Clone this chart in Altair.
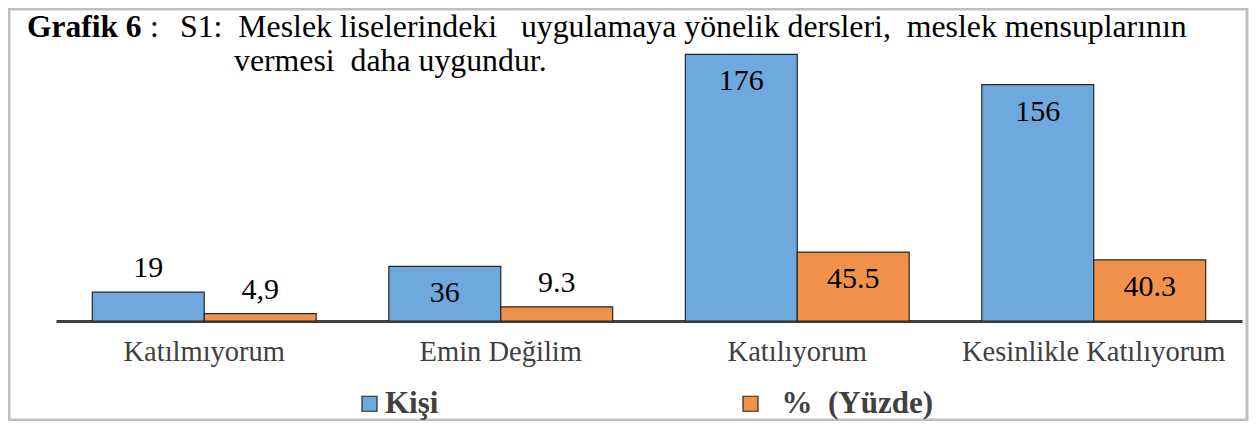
import altair as alt
import pandas as pd

categories = ["Katılmıyorum", "Emin Değilim", "Katılıyorum", "Kesinlikle Katılıyorum"]
kisi = [19, 36, 176, 156]
yuzde = [4.9, 9.3, 45.5, 40.3]
kisi_labels = ["19", "36", "176", "156"]
yuzde_labels = ["4,9", "9.3", "45.5", "40.3"]
series = ["Kişi", "%\u00a0\u00a0(Yüzde)"]

rows = []
for i, c in enumerate(categories):
    rows.append({"cat": c, "series": series[0], "value": kisi[i], "label": kisi_labels[i]})
    rows.append({"cat": c, "series": series[1], "value": yuzde[i], "label": yuzde_labels[i]})
df = pd.DataFrame(rows)

FONT = "Liberation Serif"
W, H = 1186, 297

x_enc = alt.X("cat:N", sort=categories, scale=alt.Scale(paddingInner=0.245, paddingOuter=0.1225),
              axis=alt.Axis(title=None, labelAngle=0, ticks=False, domainColor="#404040", domainWidth=3,
                            labelColor="#404040", labelFont=FONT, labelFontSize=28.5, labelPadding=16,
                            labelLimit=400, grid=False))
xo_enc = alt.XOffset("series:N", sort=series, scale=alt.Scale(paddingInner=0, paddingOuter=0))
y_enc = alt.Y("value:Q", scale=alt.Scale(domain=[0, 196]), axis=None)

base = alt.Chart(df)

bars = base.mark_bar(stroke="#262626", strokeWidth=1.2).encode(
    x=x_enc, xOffset=xo_enc, y=y_enc,
    color=alt.Color("series:N", sort=series,
                    scale=alt.Scale(domain=series, range=["#6FA8DC", "#F0924A"]),
                    legend=alt.Legend(title=None, orient="none", direction="horizontal",
                                      legendX=298, legendY=364, padding=0,
                                      symbolType="square", symbolSize=225,
                                      symbolStrokeColor="#262626", symbolStrokeWidth=1.2,
                                      labelFont=FONT, labelFontSize=31, labelFontWeight="bold",
                                      labelColor="#404040", labelOffset=0, columnPadding=296,
                                      labelLimit=400,
                                      labelExpr="datum.label == 'Kişi' ? datum.label : '\u2060\u00a0\u00a0' + datum.label")),
)

lab_in = base.transform_filter("datum.value >= 30").mark_text(
    font=FONT, fontSize=30, color="#000000", baseline="middle", dy=27
).encode(x=x_enc, xOffset=xo_enc, y=y_enc, text="label:N")

lab_out = base.transform_filter("datum.value < 30").mark_text(
    font=FONT, fontSize=30, color="#000000", baseline="middle", dy=-24
).encode(x=x_enc, xOffset=xo_enc, y=y_enc, text="label:N")

one = alt.Data(values=[{"a": 1}])

frame = alt.Chart(one).mark_rect(fillOpacity=0, stroke="#bfbfbf", strokeWidth=3).encode(
    x=alt.value(-47), x2=alt.value(1191), y=alt.value(-15), y2=alt.value(396))

t1 = alt.Chart(one).mark_text(font=FONT, fontSize=31.5, fontWeight="bold", align="left",
                               baseline="alphabetic", color="#000000").encode(
    x=alt.value(-29), y=alt.value(13), text=alt.value("Grafik 6"))
t2 = alt.Chart(one).mark_text(font=FONT, fontSize=31.5, align="left",
                               baseline="alphabetic", color="#000000").encode(
    x=alt.value(94), y=alt.value(13), text=alt.value(":"))
t3 = alt.Chart(one).mark_text(font=FONT, fontSize=31.8, align="left",
                               baseline="alphabetic", color="#000000").encode(
    x=alt.value(124), y=alt.value(13),
    text=alt.value("S1:\u00a0 Meslek liselerindeki\u00a0\u00a0 uygulamaya yönelik dersleri,\u00a0 meslek mensuplarının"))
t4 = alt.Chart(one).mark_text(font=FONT, fontSize=31.8, align="left",
                               baseline="alphabetic", color="#000000").encode(
    x=alt.value(178), y=alt.value(47), text=alt.value("vermesi\u00a0 daha uygundur."))

chart = alt.layer(frame, bars, lab_in, lab_out, t1, t2, t3, t4).properties(
    width=W, height=H,
    padding={"left": 48, "top": 16, "right": 7, "bottom": 100},
    autosize=alt.AutoSizeParams(type="none"),
    background="white",
).configure_view(stroke=None)

chart.save("out.html", embed_options={"renderer": "svg", "actions": False})
